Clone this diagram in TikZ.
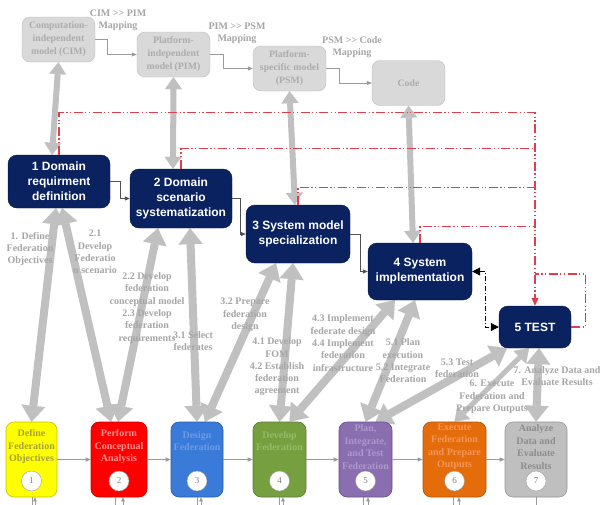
\documentclass[tikz,border=0pt]{standalone}
\usepackage{fontspec}
\setmainfont{Liberation Serif}
\setsansfont{Liberation Sans}
\usetikzlibrary{arrows.meta,calc}
\pgfdeclarelayer{bg}
\pgfsetlayers{bg,main}
\definecolor{navy}{RGB}{10,34,96}
\definecolor{navyd}{RGB}{5,22,65}
\definecolor{topfill}{RGB}{217,217,217}
\definecolor{topdraw}{RGB}{190,190,190}
\definecolor{toptext}{RGB}{172,172,172}
\definecolor{lbltext}{RGB}{166,166,166}
\definecolor{arrg}{RGB}{192,192,192}
\definecolor{redc}{RGB}{222,62,78}
\definecolor{thing}{RGB}{155,155,155}
\definecolor{connc}{RGB}{80,80,80}
\definecolor{f1}{RGB}{255,255,0}\definecolor{d1c}{RGB}{200,190,0}\definecolor{t1}{RGB}{165,160,60}
\definecolor{f2}{RGB}{255,0,0}\definecolor{d2c}{RGB}{200,0,0}\definecolor{t2}{RGB}{245,150,150}
\definecolor{f3}{RGB}{58,122,216}\definecolor{d3c}{RGB}{40,90,170}\definecolor{t3}{RGB}{110,155,225}
\definecolor{f4}{RGB}{118,160,64}\definecolor{d4c}{RGB}{90,125,45}\definecolor{t4}{RGB}{150,185,105}
\definecolor{f5}{RGB}{138,110,176}\definecolor{d5c}{RGB}{105,80,140}\definecolor{t5}{RGB}{172,152,205}
\definecolor{f6}{RGB}{228,108,10}\definecolor{d6c}{RGB}{180,80,5}\definecolor{t6}{RGB}{245,150,90}
\definecolor{f7}{RGB}{191,191,191}\definecolor{d7c}{RGB}{150,150,150}\definecolor{t7}{RGB}{140,140,140}
\tikzset{
 topbox/.style={draw=topdraw, fill=topfill, rounded corners=8pt, minimum width=73pt, minimum height=45pt, inner sep=0pt, align=center, text=toptext, font=\bfseries\fontsize{9.8}{13}\selectfont},
 bluebox/.style={draw=navyd, fill=navy, rounded corners=9pt, inner sep=0pt, align=center, text=white, font=\sffamily\bfseries\fontsize{12}{15}\selectfont},
 stepbox/.style={rounded corners=8pt, minimum height=75pt, inner sep=0pt, line width=0.6pt},
 stext/.style={align=center, inner sep=0pt, font=\bfseries\fontsize{10}{12.5}\selectfont},
 numc/.style={circle, fill=white, draw=thing, minimum size=20pt, inner sep=0pt, text=gray, font=\fontsize{9}{10}\selectfont},
 lbl/.style={align=center, inner sep=0pt, text=lbltext, font=\bfseries\fontsize{10}{12.3}\selectfont},
 bigarrow/.style={draw=arrg, line width=8pt, {Triangle[length=16pt,width=24pt,line width=0.1pt]}-{Triangle[length=16pt,width=24pt,line width=0.1pt]}},
 toparrow/.style={draw=arrg, line width=6pt, {Triangle[length=12pt,width=17pt,line width=0.1pt]}-{Triangle[length=12pt,width=17pt,line width=0.1pt]}},
 slimarrow/.style={draw=arrg, line width=5pt, {Triangle[length=13pt,width=18pt,line width=0.1pt]}-{Triangle[length=13pt,width=18pt,line width=0.1pt]}},
 redl/.style={draw=redc, line width=1.2pt, dash pattern=on 9pt off 2.5pt on 1.2pt off 2.5pt on 1.2pt off 2.5pt},
 blkl/.style={draw=black, line width=1pt, dash pattern=on 5pt off 2pt on 1pt off 2pt},
 conn/.style={draw=connc, line width=0.7pt, -{Triangle[length=5pt,width=4pt]}},
 mapc/.style={draw=thing, line width=0.7pt, -{Triangle[length=5pt,width=4pt]}},
 tick/.style={draw=thing, line width=0.6pt}
}
\begin{document}
\begin{tikzpicture}[x=1pt,y=-1pt]
\useasboundingbox (0,0) rectangle (604,504);
% top grey models
\node[topbox] (cim) at (58.5,39.5) {Computation-\\independent\\model (CIM)};
\node[topbox] (pim) at (173.5,54.5) {Platform-\\independent\\model (PIM)};
\node[topbox] (psm) at (289.5,68.5) {Platform-\\specific model\\(PSM)};
\node[topbox] (code) at (408.5,83) {Code};
% blue boxes
\node[bluebox, minimum width=102pt, minimum height=53pt] (d1) at (59,181.5) {1 Domain\\requirment\\definition};
\node[bluebox, minimum width=102pt, minimum height=59pt] (d2) at (181,198.5) {2 Domain\\scenario\\systematization};
\node[bluebox, minimum width=104pt, minimum height=58pt] (d3) at (298,234) {3 System model\\specialization};
\node[bluebox, minimum width=104pt, minimum height=57pt] (d4) at (420,271.5) {4 System\\implementation};
\node[bluebox, minimum width=72pt, minimum height=42pt] (test) at (535,327) {5 TEST};
% bottom step boxes
\node[stepbox, fill=f1, draw=d1c, minimum width=51pt] (s1) at (31.5,459.5) {};
\node[stepbox, fill=f2, draw=d2c, minimum width=56pt] (s2) at (119,459.5) {};
\node[stepbox, fill=f3, draw=d3c, minimum width=52pt] (s3) at (197,459.5) {};
\node[stepbox, fill=f4, draw=d4c, minimum width=53pt] (s4) at (279.5,459.5) {};
\node[stepbox, fill=f5, draw=d5c, minimum width=53pt] (s5) at (365.5,459.5) {};
\node[stepbox, fill=f6, draw=d6c, minimum width=63pt] (s6) at (454.5,459.5) {};
\node[stepbox, fill=f7, draw=d7c, minimum width=62pt] (s7) at (536,459.5) {};
\node[stext, text=t1] (x1) at ([yshift=12.5pt]s1.center) {Define\\Federation\\Objectives};
\node[stext, text=t2] (x2) at ([yshift=12.5pt]s2.center) {Perform\\Conceptual\\Analysis};
\node[stext, text=t3] (x3) at ([yshift=18.5pt]s3.center) {Design\\Federation};
\node[stext, text=t4] (x4) at ([yshift=18.5pt]s4.center) {Develop\\Federation};
\node[stext, text=t5] (x5) at ([yshift=12.5pt]s5.center) {Plan,\\Integrate,\\and Test\\Federation};
\node[stext, text=t6] (x6) at ([yshift=12.5pt]s6.center) {Execute\\Federation\\and Prepare\\Outputs};
\node[stext, text=t7] (x7) at ([yshift=12.5pt]s7.center) {Analyze\\Data and\\Evaluate\\Results};
\node[numc] (c1) at ([yshift=-21.5pt]s1.center) {1};
\node[numc] (c2) at ([yshift=-21.5pt]s2.center) {2};
\node[numc] (c3) at ([yshift=-21.5pt]s3.center) {3};
\node[numc] (c4) at ([yshift=-21.5pt]s4.center) {4};
\node[numc] (c5) at ([yshift=-21.5pt]s5.center) {5};
\node[numc] (c6) at ([yshift=-21.5pt]s6.center) {6};
\node[numc] (c7) at ([yshift=-21.5pt]s7.center) {7};
% background arrows and lines
\begin{pgfonlayer}{bg}
\fill[white] (0,0) rectangle (604,504);
\draw[toparrow] (cim.south) -- ([xshift=-7pt]d1.north);
\draw[toparrow] (pim.south) -- ([xshift=-8pt]d2.north);
\draw[toparrow] (psm.south) -- ([xshift=-3pt]d3.north);
\draw[toparrow] (code.south) -- ([xshift=-7pt]d4.north);
\draw[bigarrow] ([xshift=-3pt]d1.south) -- (s1.north);
\draw[bigarrow] ([xshift=3pt]d1.south) -- ([xshift=-8pt]s2.north);
\draw[bigarrow] ([xshift=-23pt]d2.south) -- ([xshift=-1pt]s2.north);
\draw[bigarrow] ([xshift=9pt]d2.south) -- (s3.north);
\draw[bigarrow] ([xshift=-22pt]d3.south) -- ([xshift=8pt]s3.north);
\draw[bigarrow] ([xshift=-5pt]d3.south) -- (s4.north);
\draw[bigarrow] ([xshift=-25pt]d4.south) -- ([xshift=10pt]s4.north);
\draw[bigarrow] ([xshift=-5pt]d4.south) -- (s5.north);
\draw[bigarrow] ([xshift=-28pt]test.south) -- ([xshift=10pt]s5.north);
\draw[slimarrow] ([xshift=-6pt]test.south) -- (s6.north);
\draw[bigarrow] ([xshift=4pt]test.south) -- (s7.north);
\end{pgfonlayer}
% red feedback lines
\draw[redl,-{Triangle[length=8pt,width=7pt]}] (d1.north) -- ++(0,-42) -| (test.north);
\draw[redl] (d2.north) -- ++(0,-20) coordinate (r2) -- (r2 -| test.north);
\draw[redl] (d3.north) -- ++(0,-17) coordinate (r3) -- (r3 -| test.north);
\draw[redl] (d4.north) -- ++(0,-16) coordinate (r4) -- (r4 -| test.north);
\draw[redl] (test.east) -- ++(14,0) -- ++(0,-53) coordinate (r5) -- (r5 -| test.north);
% black dash-dot double arrow
\draw[blkl, {Triangle[length=8pt,width=8pt]}-{Triangle[length=8pt,width=8pt]}] (d4.east) -- ++(13,0) |- (test.west);
% connectors
\draw[conn] (d1.east) -- ++(10,0) |- (d2.west);
\draw[conn] (d2.east) -- ++(8,0) |- (d3.west);
\draw[conn] (d3.east) -- ++(10,0) |- (d4.west);
\draw[mapc] (cim.east) -- ++(12,0) |- (pim.west);
\draw[mapc] (pim.east) -- ++(13,0) |- (psm.west);
\draw[mapc] (psm.east) -- ++(13,0) |- (code.west);
\draw[mapc] (s1) -- (s2);
\draw[mapc] (s2) -- (s3);
\draw[mapc] (s3) -- (s4);
\draw[mapc] (s4) -- (s5);
\draw[mapc] (s5) -- (s6);
\draw[mapc] (s6) -- (s7);
% bottom ticks
\foreach \s/\d in {s1/0.5,s2/-4,s3/0,s4/0,s5/-2,s6/-1,s7/0}{
  \draw[tick] ([xshift=\d pt]\s.south) -- ++(0,9);
}
\foreach \s/\d in {s1/3.5,s2/4,s3/4,s4/3.5,s5/2.5,s6/4.5}{
  \draw[tick,-{Triangle[length=4pt,width=3.5pt]}] ([xshift=\d pt,yshift=-9pt]\s.south) -- ([xshift=\d pt]\s.south);
}
% labels
\node[lbl] (m1) at (118,20) {CIM >{}> PIM\\Mapping};
\node[lbl] (m2) at (237,33) {PIM >{}> PSM\\Mapping};
\node[lbl] (m3) at (352,47) {PSM >{}> Code\\Mapping};
\node[lbl] (l1) at (30,249) {1. Define\\Federation\\Objectives};
\node[lbl] (l2) at (95,252) {2.1\\Develop\\Federatio\\n scenario};
\node[lbl] (l3) at (147,308) {2.2 Develop\\federation\\conceptual model\\2.3 Develop\\federation\\requirements};
\node[lbl] (l4) at (193,341) {3.1 Select\\federates};
\node[lbl] (l5) at (245,315) {3.2 Prepare\\federation\\design};
\node[lbl] (l6) at (277,367) {4.1 Develop\\FOM\\4.2 Establish\\federation\\agreement};
\node[lbl] (l7) at (343,343) {4.3 Implement\\federate design\\4.4 Implement\\federation\\infrastructure};
\node[lbl] (l8) at (403,361) {5.1 Plan\\execution\\5.2 Integrate\\Federation};
\node[lbl] (l9) at (457,368) {5.3 Test\\federation};
\node[lbl] (l10) at (492,397) {6. Execute\\Federation and\\Prepare Outputs};
\node[lbl] (l11) at (557,376) {7. Analyze Data and\\Evaluate Results};
\end{tikzpicture}
\end{document}
